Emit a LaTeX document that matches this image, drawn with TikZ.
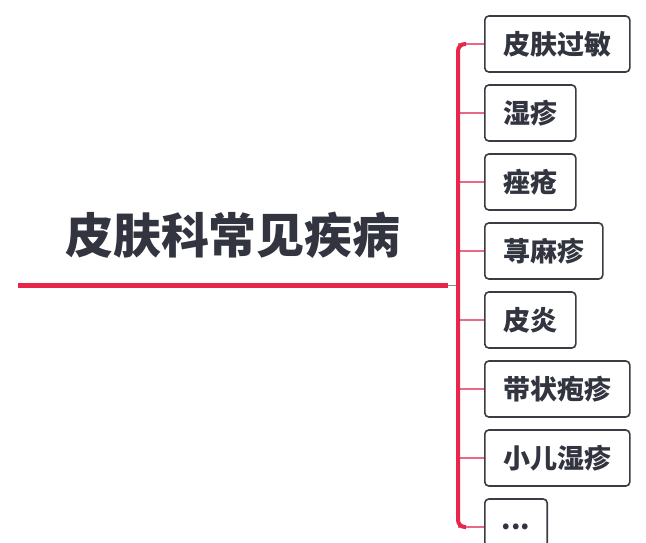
\documentclass[tikz,border=0pt]{standalone}
\usepackage{fontspec}
\usetikzlibrary{calc}
\newfontfamily\cjk{Noto Sans CJK SC}
\definecolor{mainred}{HTML}{E8254B}
\definecolor{twigred}{HTML}{E66A84}
\definecolor{boxgray}{HTML}{3A3B43}
\definecolor{textdark}{HTML}{32353F}
\tikzset{
leaf/.style={draw=boxgray, line width=1.6pt, rounded corners=4pt, anchor=west,
  inner xsep=18.5pt, minimum height=56pt,
  font=\cjk\bfseries\fontsize{27}{27}\selectfont, text=textdark},
twig/.style={draw=twigred, line width=1.2pt},
trunk/.style={draw=mainred, line width=4pt, rounded corners=7pt},
mainline/.style={draw=mainred, line width=5pt}
}
\newcommand{\leafnode}[4][]{%
\node[leaf,#1] (#2) at (484,#3) {#4};
\coordinate (#2-j) at (458,#3);
\draw[twig] (#2-j) -- (#2.west);
}

\begin{document}
\begin{tikzpicture}[x=1pt,y=-1pt]
\useasboundingbox (0,0) rectangle (646,542);

% title and its line
\node[font=\cjk\bfseries\fontsize{48}{48}\selectfont, text=textdark] (title) at (233,235) {皮肤科常见疾病};
\coordinate (root-w) at (18,285);
\coordinate (root-e) at (448,285);
\coordinate (root-j) at (458,285);
\draw[mainline] (root-w) -- (root-e);
\draw[draw=boxgray!60, line width=1pt] (root-e) -- (root-j);

% branches
\leafnode{b1}{44}{皮肤过敏}
\leafnode{b2}{113}{湿疹}
\leafnode{b3}{182}{痤疮}
\leafnode{b4}{251}{荨麻疹}
\leafnode{b5}{320}{皮炎}
\leafnode{b6}{389}{带状疱疹}
\leafnode{b7}{458}{小儿湿疹}
\leafnode[inner xsep=17pt]{b8}{527}{\raisebox{-5pt}{...}}

\draw[trunk] ($(b1-j)+(8,0)$) -- (b1-j) -- (b8-j) -- ($(b8-j)+(8,0)$);

\end{tikzpicture}
\end{document}
